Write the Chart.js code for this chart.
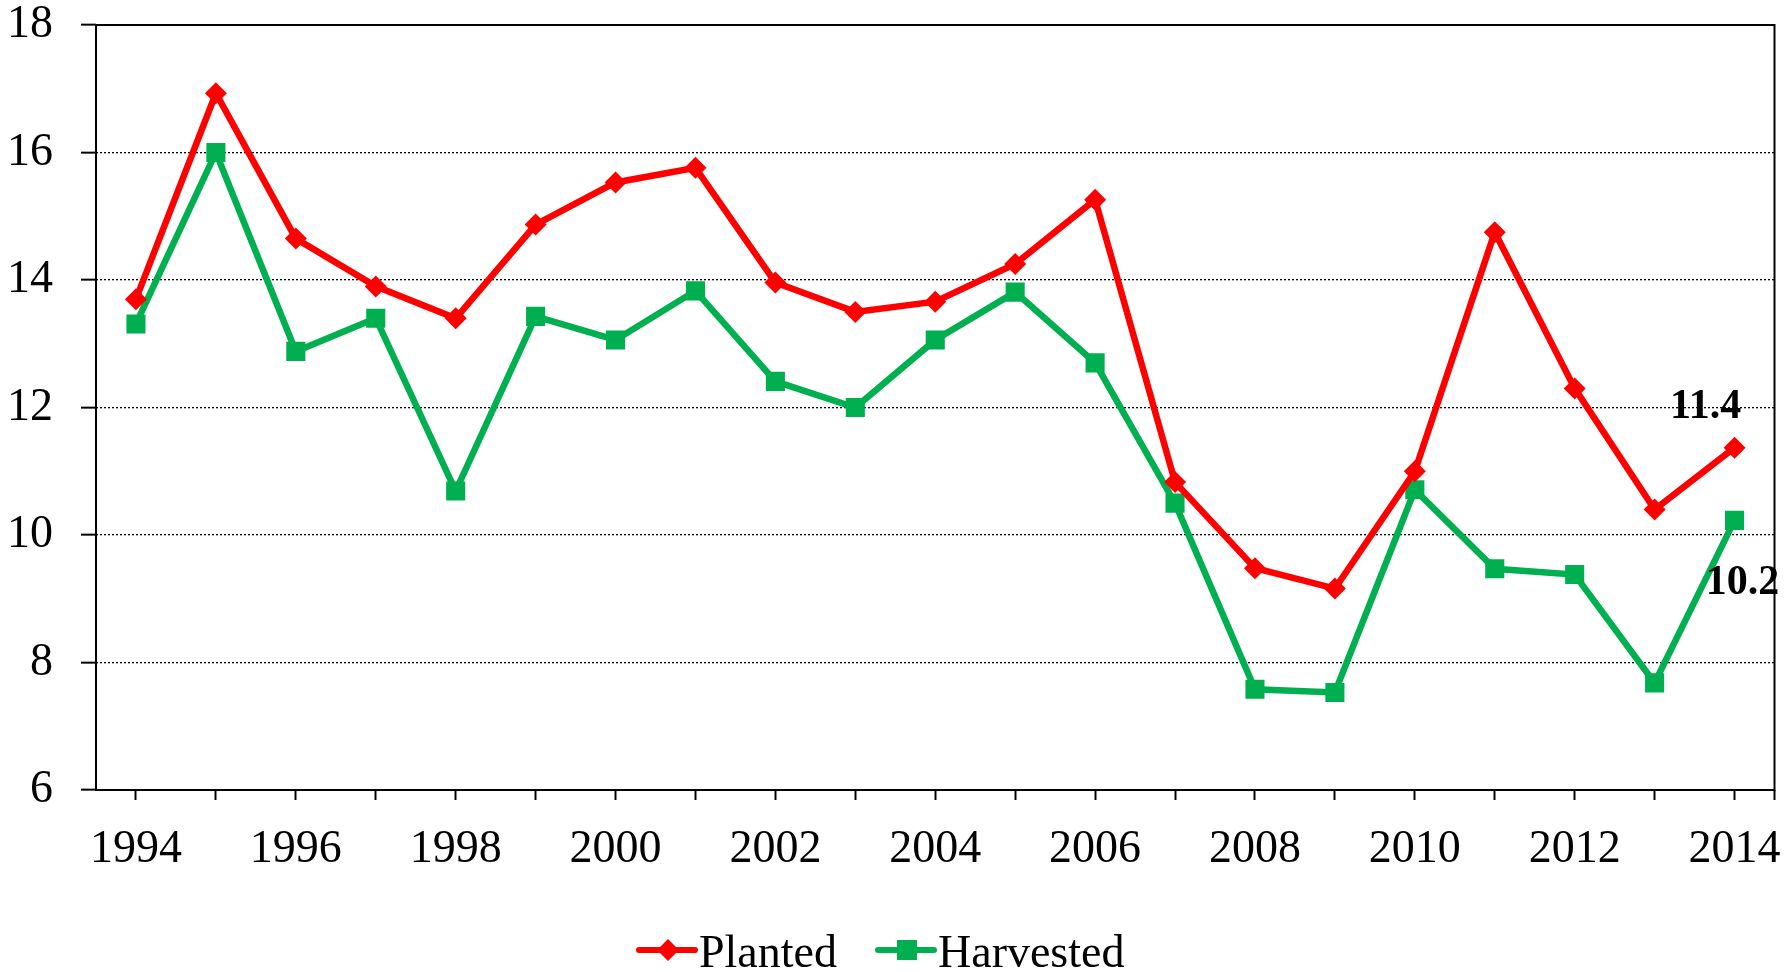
<!DOCTYPE html>
<html>
<head>
<meta charset="utf-8">
<script src="https://cdn.jsdelivr.net/npm/chart.js@4.4.1/dist/chart.umd.min.js"></script>
<style>
  html, body { margin: 0; padding: 0; background: #fff; }
  #wrap { width: 1788px; height: 972px; }
</style>
</head>
<body>
<div id="wrap"><canvas id="chart" width="1788" height="972"></canvas></div>
<script>
const years = ["1994", "1995", "1996", "1997", "1998", "1999", "2000", "2001", "2002", "2003", "2004",
  "2005", "2006", "2007", "2008", "2009", "2010", "2011", "2012", "2013", "2014"];

const planted = [13.70, 16.93, 14.65, 13.90, 13.40, 14.87, 15.53, 15.76, 13.96, 13.50, 13.66,
  14.25, 15.26, 10.83, 9.48, 9.16, 11.00, 14.75, 12.30, 10.40, 11.37];

const harvested = [13.31, 16.00, 12.88, 13.40, 10.69, 13.43, 13.06, 13.83, 12.41, 12.00, 13.06,
  13.81, 12.70, 10.50, 7.58, 7.53, 10.71, 9.47, 9.38, 7.68, 10.23];

const yTicks = [6, 8, 10, 12, 14, 16, 18];

const RED = "#ff0000";
const GREEN = "#00b050";
const SERIF = "'Liberation Serif', 'Times New Roman', serif";

// plot frame (solid box round the chart area) + tick at right bottom corner
const framePlugin = {
  id: "frame",
  beforeDatasetsDraw(chart) {
    const { ctx, chartArea: a } = chart;
    ctx.save();
    ctx.strokeStyle = "#000";
    ctx.lineWidth = 2;
    ctx.strokeRect(a.left, a.top, a.right - a.left, a.bottom - a.top);
    ctx.beginPath();
    ctx.moveTo(a.right, a.bottom);
    ctx.lineTo(a.right, a.bottom + 10);
    ctx.stroke();
    ctx.restore();
  }
};

// bold value labels on the last point of each series
const lastLabelPlugin = {
  id: "lastLabel",
  afterDatasetsDraw(chart) {
    const { ctx } = chart;
    const offsets = [{ dx: -29, dy: -41 }, { dx: 8, dy: 63 }];
    ctx.save();
    ctx.font = "bold 42px " + SERIF;
    ctx.fillStyle = "#000";
    ctx.textAlign = "center";
    ctx.textBaseline = "middle";
    chart.data.datasets.forEach((ds, i) => {
      const meta = chart.getDatasetMeta(i);
      const last = ds.data.length - 1;
      const pt = meta.data[last];
      ctx.fillText(ds.data[last].toFixed(1), pt.x + offsets[i].dx, pt.y + offsets[i].dy);
    });
    ctx.restore();
  }
};

// legend with line + marker, like the original
const legendPlugin = {
  id: "lineLegend",
  afterDraw(chart) {
    const { ctx } = chart;
    const y = 950;
    const starts = [639, 878];
    ctx.save();
    ctx.font = "46px " + SERIF;
    ctx.textBaseline = "alphabetic";
    chart.data.datasets.forEach((ds, i) => {
      const x = starts[i];
      ctx.strokeStyle = ds.borderColor;
      ctx.lineWidth = 6;
      ctx.lineCap = "round";
      ctx.beginPath();
      ctx.moveTo(x, y);
      ctx.lineTo(x + 56, y);
      ctx.stroke();
      ctx.fillStyle = ds.borderColor;
      const cx = x + 29;
      if (ds.pointStyle === "rectRot") {
        ctx.beginPath();
        ctx.moveTo(cx, y - 11);
        ctx.lineTo(cx + 11, y);
        ctx.lineTo(cx, y + 11);
        ctx.lineTo(cx - 11, y);
        ctx.closePath();
        ctx.fill();
      } else {
        ctx.fillRect(cx - 10, y - 10, 20, 20);
      }
      ctx.fillStyle = "#000";
      ctx.fillText(ds.label, x + 60, 967);
    });
    ctx.restore();
  }
};

new Chart(document.getElementById("chart"), {
  type: "line",
  data: {
    labels: years,
    datasets: [
      {
        label: "Planted",
        data: planted,
        borderColor: RED,
        backgroundColor: RED,
        borderWidth: 6.5,
        pointStyle: "rectRot",
        pointRadius: 11,
        pointBorderWidth: 0,
        tension: 0
      },
      {
        label: "Harvested",
        data: harvested,
        borderColor: GREEN,
        backgroundColor: GREEN,
        borderWidth: 6.5,
        pointStyle: "rect",
        pointRadius: 13.5,
        pointBorderWidth: 0,
        tension: 0
      }
    ]
  },
  options: {
    responsive: false,
    animation: false,
    devicePixelRatio: 1,
    layout: { padding: { top: 25, right: 12, bottom: 0, left: 0 } },
    plugins: {
      legend: { display: false },
      tooltip: { enabled: false }
    },
    scales: {
      x: {
        offset: true,
        grid: {
          offset: false,
          drawOnChartArea: false,
          drawTicks: true,
          tickLength: 10,
          tickColor: "#000",
          tickWidth: 2
        },
        border: { display: false },
        ticks: {
          autoSkip: false,
          maxRotation: 0,
          padding: 22,
          color: "#000",
          font: { family: SERIF, size: 46 },
          callback: (v, i) => (i % 2 === 0 ? years[i] : "")
        },
        afterFit(scale) {
          scale.height = 182;
          scale.paddingLeft = 0;
          scale.paddingRight = 0;
        }
      },
      y: {
        min: yTicks[0],
        max: yTicks[yTicks.length - 1],
        afterBuildTicks(scale) { scale.ticks = yTicks.map(v => ({ value: v })); },
        grid: {
          color: "#000",
          lineWidth: 1.3,
          drawTicks: true,
          tickLength: 15,
          tickColor: "#000",
          tickWidth: 2,
          tickBorderDash: []
        },
        border: { display: false, dash: [2, 2] },
        ticks: {
          padding: 28,
          color: "#000",
          font: { family: SERIF, size: 46 }
        },
        afterFit(scale) {
          scale.width = 96;
          scale.paddingTop = 0;
          scale.paddingBottom = 0;
        }
      }
    }
  },
  plugins: [framePlugin, lastLabelPlugin, legendPlugin]
});
</script>
</body>
</html>
